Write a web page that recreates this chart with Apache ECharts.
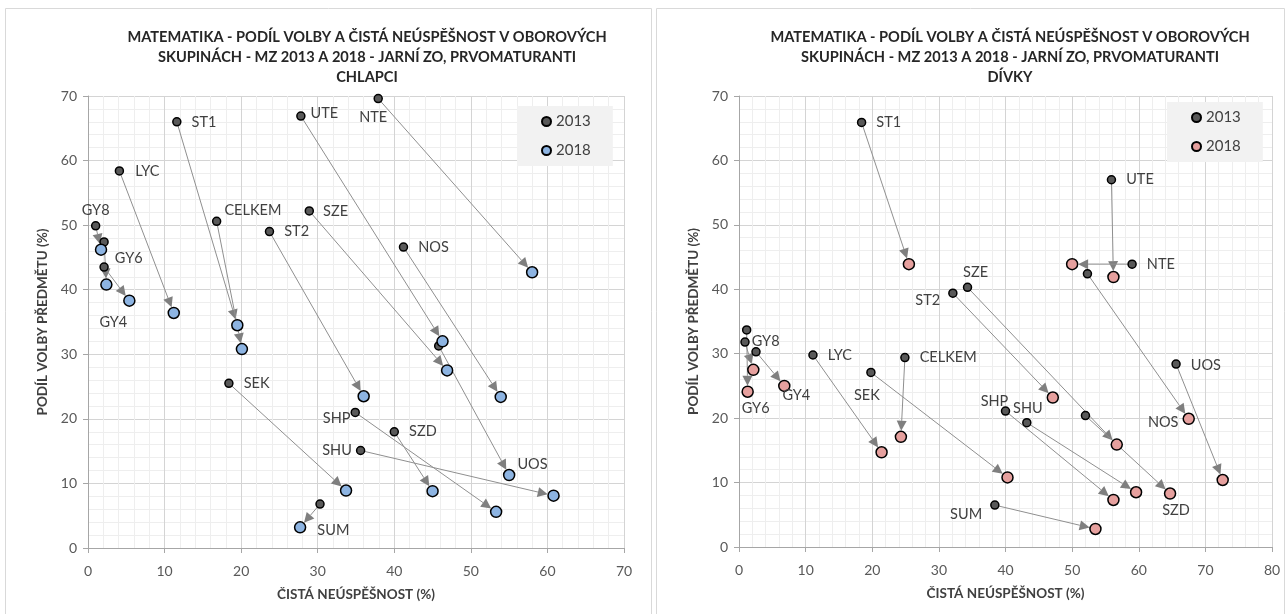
<!DOCTYPE html>
<html>
<head>
<meta charset="utf-8">
<title>Matematika - podíl volby a čistá neúspěšnost</title>
<script src="https://cdn.jsdelivr.net/npm/echarts@6/dist/echarts.min.js"></script>
<style>
  html, body { margin: 0; padding: 0; background: #fff; }
  #chart { width: 1288px; height: 614px; }
</style>
</head>
<body>
<div id="chart"></div>
<script>
// skupiny oborů (stejné pořadí ve všech polích)
var NAMES = ['ST1', 'UTE', 'NTE', 'LYC', 'GY8', 'GY6', 'GY4', 'CELKEM', 'SZE', 'ST2', 'NOS', 'UOS', 'SEK', 'SHP', 'SZD', 'SHU', 'SUM'];

// chlapci: x = čistá neúspěšnost, y = podíl volby
var boysX2013 = [11.6, 27.8, 37.9, 4.1, 1.0, 2.1, 2.1, 16.8, 28.9, 23.7, 41.2, 45.8, 18.4, 34.9, 40.0, 35.6, 30.3];
var boysY2013 = [66.0, 66.9, 69.6, 58.4, 49.9, 47.4, 43.5, 50.6, 52.2, 49.0, 46.6, 31.3, 25.5, 21.0, 18.0, 15.1, 6.8];
var boysX2018 = [19.5, 46.3, 58.0, 11.2, 1.7, 2.4, 5.4, 20.1, 46.9, 36.0, 53.9, 55.0, 33.7, 53.3, 45.0, 60.8, 27.7];
var boysY2018 = [34.5, 32.0, 42.7, 36.4, 46.2, 40.8, 38.3, 30.8, 27.5, 23.5, 23.4, 11.3, 8.9, 5.6, 8.8, 8.1, 3.2];

// dívky
var girlsX2013 = [18.4, 55.9, 59.0, 11.1, 0.9, 1.15, 2.55, 24.9, 34.3, 32.1, 52.3, 65.6, 19.8, 40.0, 52.0, 43.2, 38.4];
var girlsY2013 = [65.9, 57.0, 43.9, 29.8, 31.8, 33.7, 30.3, 29.4, 40.3, 39.4, 42.4, 28.4, 27.1, 21.1, 20.4, 19.3, 6.5];
var girlsX2018 = [25.5, 56.2, 50.0, 21.4, 2.15, 1.3, 6.8, 24.3, 56.7, 47.1, 67.5, 72.6, 40.3, 56.2, 64.7, 59.6, 53.5];
var girlsY2018 = [43.9, 41.9, 43.9, 14.7, 27.5, 24.1, 25.0, 17.1, 15.9, 23.2, 19.9, 10.4, 10.8, 7.3, 8.3, 8.5, 2.8];

var xTicksBoys = [0, 10, 20, 30, 40, 50, 60, 70];
var xTicksGirls = [0, 10, 20, 30, 40, 50, 60, 70, 80];
var yTicks = [0, 10, 20, 30, 40, 50, 60, 70];

// umístění popisků: [rok bodu, pozice, vzdálenost, posun]
var boysLabels = {
  ST1: ['13', 'right', 10, [0, 0]], UTE: ['13', 'right', 5, [0, -3]], NTE: ['13', 'bottom', 6, [-5, 0]],
  LYC: ['13', 'right', 11, [0, 0]], GY8: ['13', 'top', 3, [0, 0]], GY6: ['13', 'right', 6, [0, 16]],
  GY4: ['18', 'bottom', 8, [-16, 0]], CELKEM: ['13', 'right', 3, [0, -11]], SZE: ['13', 'right', 9, [0, 0]],
  ST2: ['13', 'right', 10, [0, 0]], NOS: ['13', 'right', 10, [0, 0]], UOS: ['18', 'right', 2, [0, -11]],
  SEK: ['13', 'right', 10, [0, 0]], SHP: ['13', 'left', 0, [0, 6]], SZD: ['13', 'right', 10, [0, 0]],
  SHU: ['13', 'left', 4, [0, 0]], SUM: ['18', 'right', 11, [0, 3]]
};
var girlsLabels = {
  ST1: ['13', 'right', 10, [0, 0]], UTE: ['13', 'right', 10, [0, 0]], NTE: ['13', 'right', 10, [0, 0]],
  LYC: ['13', 'right', 10, [0, 0]], GY8: ['13', 'right', 2, [0, -1]], GY6: ['18', 'bottom', 3, [8, 0]],
  GY4: ['18', 'bottom', -4, [12, 0]], CELKEM: ['13', 'right', 10, [0, 0]], SZE: ['13', 'top', 3, [8, 0]],
  ST2: ['13', 'left', 8, [0, 7]], NOS: ['18', 'left', 4, [0, 4]], UOS: ['13', 'right', 10, [0, 1]],
  SEK: ['13', 'bottom', 11, [-4, 0]], SHP: ['13', 'top', 0, [-11, 3]], SZD: ['18', 'bottom', 3, [6, 0]],
  SHU: ['13', 'top', 2, [1, 0]], SUM: ['13', 'left', 8, [0, 9]]
};

var FONT = 'Lato, "Liberation Sans", sans-serif';
var TEXT = '#404040';

function points(xs, ys, labels, year) {
  return NAMES.map(function (n, i) {
    var item = {name: n, value: [xs[i], ys[i]]};
    var l = labels[n];
    if (l && l[0] === year) {
      item.label = {show: true, formatter: n, position: l[1], distance: l[2], offset: l[3]};
    }
    return item;
  });
}

function pairs(x1, y1, x2, y2) {
  return NAMES.map(function (n, i) { return [x1[i], y1[i], x2[i], y2[i]]; });
}

function arrowItem(params, api) {
  var a = api.coord([api.value(0), api.value(1)]);
  var b = api.coord([api.value(2), api.value(3)]);
  var dx = b[0] - a[0], dy = b[1] - a[1];
  var len = Math.sqrt(dx * dx + dy * dy) || 1;
  var ux = dx / len, uy = dy / len;
  var tip = [b[0] - ux * 6, b[1] - uy * 6];
  var base = [tip[0] - ux * 10, tip[1] - uy * 10];
  var w = 5;
  return {
    type: 'group',
    children: [
      {type: 'line', shape: {x1: a[0], y1: a[1], x2: base[0], y2: base[1]}, style: {stroke: '#8f8f8f', lineWidth: 1}},
      {type: 'polygon', shape: {points: [tip, [base[0] - uy * w, base[1] + ux * w], [base[0] + uy * w, base[1] - ux * w]]},
        style: {fill: '#7f7f7f'}}
    ]
  };
}

function xAxis(idx, max, ticks) {
  return {
    type: 'value', gridIndex: idx, min: 0, max: max, interval: 10,
    name: 'ČISTÁ NEÚSPĚŠNOST (%)', nameLocation: 'middle', nameGap: 40,
    nameTextStyle: {fontFamily: FONT, fontWeight: 'bold', fontSize: 13.5, color: TEXT},
    axisLine: {show: true, onZero: false, lineStyle: {color: '#a6a6a6'}},
    axisTick: {show: true, length: 5, lineStyle: {color: '#a6a6a6'}},
    axisLabel: {fontFamily: FONT, fontSize: 14, color: '#595959', margin: 16,
      formatter: function (v) { return ticks.indexOf(v) >= 0 ? String(v) : ''; }},
    splitLine: {show: true, lineStyle: {color: '#d4d4d4'}},
    minorTick: {show: true, splitNumber: 5, length: 0},
    minorSplitLine: {show: true, lineStyle: {color: '#eeeeee'}}
  };
}

function yAxis(idx) {
  return {
    type: 'value', gridIndex: idx, min: 0, max: 70, interval: 10,
    name: 'PODÍL VOLBY PŘEDMĚTU (%)', nameLocation: 'middle', nameGap: 38, nameRotate: 90,
    nameTextStyle: {fontFamily: FONT, fontWeight: 'bold', fontSize: 13.5, color: TEXT},
    axisLine: {show: true, lineStyle: {color: '#a6a6a6'}},
    axisTick: {show: true, length: 5, lineStyle: {color: '#a6a6a6'}},
    axisLabel: {fontFamily: FONT, fontSize: 14, color: '#595959', margin: 11,
      formatter: function (v) { return yTicks.indexOf(v) >= 0 ? String(v) : ''; }},
    splitLine: {show: true, lineStyle: {color: '#d4d4d4'}},
    minorTick: {show: true, splitNumber: 5, length: 0},
    minorSplitLine: {show: true, lineStyle: {color: '#eeeeee'}}
  };
}

var labelStyle = {fontFamily: FONT, fontSize: 14.5, color: TEXT};

function scatter(name, idx, data, size, fill) {
  return {
    name: name, type: 'scatter', xAxisIndex: idx, yAxisIndex: idx, z: 5,
    symbol: 'circle', symbolSize: size, data: data,
    itemStyle: {color: fill, borderColor: '#000', borderWidth: 1.5, opacity: 1},
    label: labelStyle, emphasis: {disabled: true}
  };
}

function arrows(idx, data) {
  return {
    type: 'custom', xAxisIndex: idx, yAxisIndex: idx, z: 2, silent: true,
    renderItem: arrowItem, data: data, encode: {x: [0, 2], y: [1, 3]}
  };
}

var titleStyle = {fontFamily: FONT, fontWeight: 'bold', fontSize: 14.6, color: '#262626', lineHeight: 20};
var legendBase = {
  orient: 'vertical', icon: 'circle', itemWidth: 9, itemHeight: 9, itemGap: 14,
  backgroundColor: '#f2f2f2', padding: [8, 22, 8, 24], selectedMode: false,
  textStyle: {fontFamily: FONT, fontSize: 15, color: TEXT},
  formatter: function (n) { return n.slice(1); }
};

var chart = echarts.init(document.getElementById('chart'));
chart.setOption({
  animation: false,
  graphic: [
    {type: 'rect', shape: {x: 5.5, y: 8.5, width: 646, height: 612}, style: {fill: 'none', stroke: '#d9d9d9'}, silent: true},
    {type: 'rect', shape: {x: 656.5, y: 8.5, width: 628, height: 612}, style: {fill: 'none', stroke: '#d9d9d9'}, silent: true}
  ],
  title: [
    {text: 'MATEMATIKA - PODÍL VOLBY A ČISTÁ NEÚSPĚŠNOST V OBOROVÝCH\nSKUPINÁCH - MZ 2013 A 2018 - JARNÍ ZO, PRVOMATURANTI\nCHLAPCI',
      left: 362, top: 22, textAlign: 'center', textStyle: titleStyle},
    {text: 'MATEMATIKA - PODÍL VOLBY A ČISTÁ NEÚSPĚŠNOST V OBOROVÝCH\nSKUPINÁCH - MZ 2013 A 2018 - JARNÍ ZO, PRVOMATURANTI\nDÍVKY',
      left: 1005, top: 22, textAlign: 'center', textStyle: titleStyle}
  ],
  legend: [
    Object.assign({data: ['L2013', 'L2018'], left: 517, top: 106}, legendBase),
    Object.assign({data: ['R2013', 'R2018'], left: 1167, top: 102}, legendBase)
  ],
  grid: [
    {left: 88, top: 96, width: 536, height: 452},
    {left: 739, top: 96, width: 533, height: 451}
  ],
  xAxis: [xAxis(0, 70, xTicksBoys), xAxis(1, 80, xTicksGirls)],
  yAxis: [yAxis(0), yAxis(1)],
  series: [
    arrows(0, pairs(boysX2013, boysY2013, boysX2018, boysY2018)),
    arrows(1, pairs(girlsX2013, girlsY2013, girlsX2018, girlsY2018)),
    scatter('L2013', 0, points(boysX2013, boysY2013, boysLabels, '13'), 8, '#595959'),
    scatter('L2018', 0, points(boysX2018, boysY2018, boysLabels, '18'), 11, '#8db4e2'),
    scatter('R2013', 1, points(girlsX2013, girlsY2013, girlsLabels, '13'), 8, '#595959'),
    scatter('R2018', 1, points(girlsX2018, girlsY2018, girlsLabels, '18'), 11, '#e6a09e')
  ]
});
</script>
</body>
</html>
